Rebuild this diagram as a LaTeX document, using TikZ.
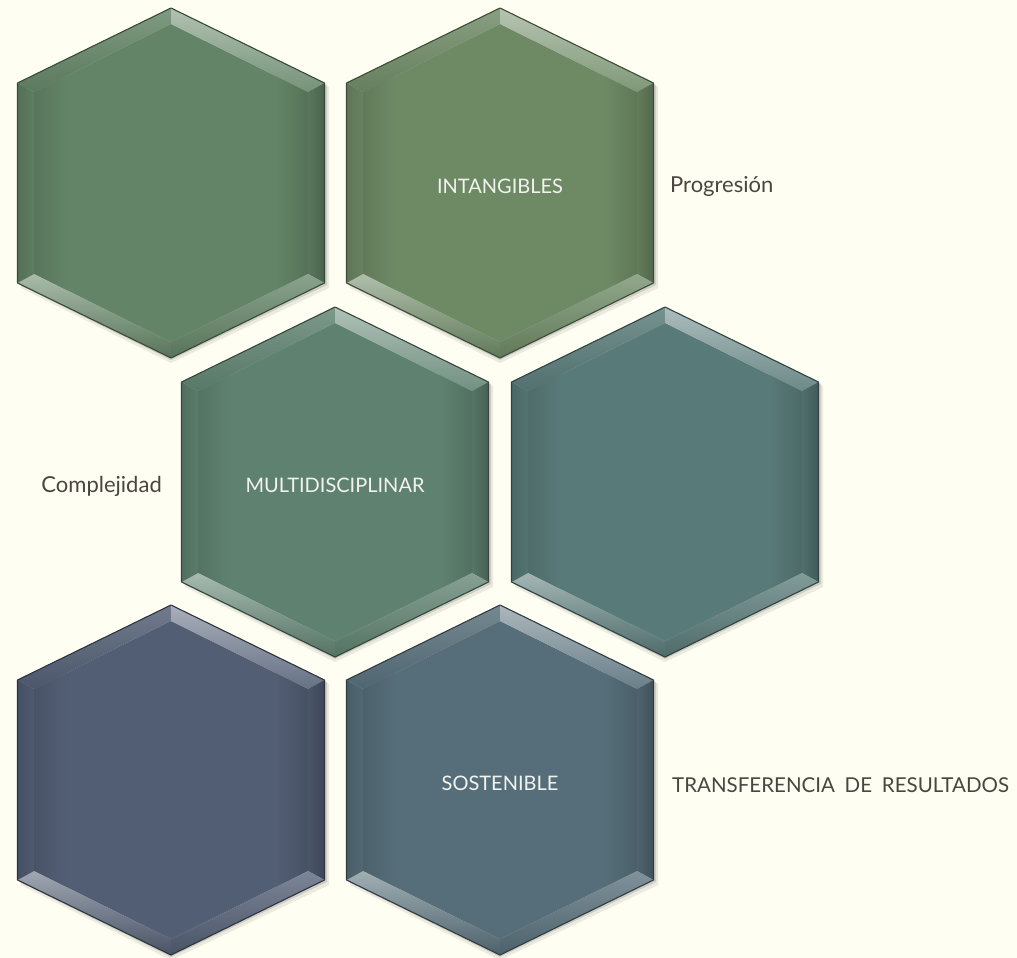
\documentclass[tikz,border=0pt]{standalone}
\usepackage{fontspec}
\setmainfont{Lato}
\definecolor{bgcream}{HTML}{FFFEF2}
\definecolor{hexA}{HTML}{638466}
\definecolor{hexB}{HTML}{6E8A65}
\definecolor{hexC}{HTML}{5F8270}
\definecolor{hexD}{HTML}{587A78}
\definecolor{hexE}{HTML}{525E74}
\definecolor{hexF}{HTML}{566E79}
\definecolor{outtext}{HTML}{4A4541}
\definecolor{intext}{HTML}{F2F2EE}
\tikzset{
  intxt/.style={text=intext, font=\fontsize{20}{24}\selectfont, inner sep=0pt},
  outtxt/.style={text=outtext, font=\fontsize{22}{26}\selectfont, inner sep=0pt},
  outcaps/.style={text=outtext, font=\fontsize{20.5}{24}\selectfont, inner sep=0pt},
}
\newcommand\hexcell[3]{%
  \begin{scope}[shift={(#1)}]
    % shadow
    \fill[black, opacity=0.08] (0,-171) -- (158,-96) -- (158,105) -- (0,180) -- (-150,105) -- (-150,-96) -- cycle;
    \fill[black, opacity=0.12] (0,-173) -- (156,-98) -- (156,102) -- (0,177) -- (-151.5,102) -- (-151.5,-98) -- cycle;
    % face
    \begin{scope}
      \clip (0,-159) -- (137,-91) -- (137,91) -- (0,159) -- (-137,91) -- (-137,-91) -- cycle;
      \fill[#2] (-140,-180) rectangle (140,180);
      \shade[left color=#2!88!black, right color=#2] (-138,-180) rectangle (-105,180);
      \shade[left color=#2, right color=#2!86!black] (105,-180) rectangle (138,180);
    \end{scope}
    % bevel facets
    \shade[top color=#2!82!white, bottom color=#2!92!black] (-153.5,-100) -- (0,-175) -- (0,-159) -- (-137,-91) -- cycle;
    \shade[top color=#2!50!white, bottom color=#2!88!white] (0,-175) -- (153.5,-100) -- (137,-91) -- (0,-159) -- cycle;
    \shade[left color=#2!90!black, right color=#2!75!black] (153.5,-100) -- (153.5,100) -- (137,91) -- (137,-91) -- cycle;
    \shade[top color=#2!75!white, bottom color=#2!88!black] (153.5,100) -- (0,175) -- (0,159) -- (137,91) -- cycle;
    \shade[top color=#2!55!white, bottom color=#2!88!black] (0,175) -- (-153.5,100) -- (-137,91) -- (0,159) -- cycle;
    \shade[left color=#2!85!black, right color=#2!95!black] (-153.5,100) -- (-153.5,-100) -- (-137,-91) -- (-137,91) -- cycle;
    % outline
    \draw[#2!55!black, line width=1.1pt, line join=round]
      (0,-175) -- (153.5,-100) -- (153.5,100) -- (0,175) -- (-153.5,100) -- (-153.5,-100) -- cycle;
    \node[intxt, anchor=base] (#3) at (0,9) {};
  \end{scope}%
}
\begin{document}
\begin{tikzpicture}[x=1pt, y=-1pt]
  \fill[bgcream] (0,0) rectangle (1017,958);
  \useasboundingbox (0,0) rectangle (1017,958);

  \hexcell{171,183}{hexA}{h1}
  \hexcell{500,183}{hexB}{h2}
  \hexcell{335,482}{hexC}{h3}
  \hexcell{665,482}{hexD}{h4}
  \hexcell{171,780}{hexE}{h5}
  \hexcell{500,780}{hexF}{h6}

  \node[intxt, anchor=base] (intang) at (500,193) {INTANGIBLES};
  \node[intxt, anchor=base] (multi) at (335,492) {MULTIDISCIPLINAR};
  \node[intxt, anchor=base] (sosten) at (500,790) {SOSTENIBLE};

  \node[outtxt, anchor=base west] (progres) at (670,192) {Progresión};
  \node[outtxt, anchor=base east] (complej) at (162,492) {Complejidad};
  \node[outcaps, anchor=base west] (transf) at (672,792) {TRANSFERENCIA\hspace{0.22em} DE\hspace{0.22em} RESULTADOS};
\end{tikzpicture}
\end{document}
